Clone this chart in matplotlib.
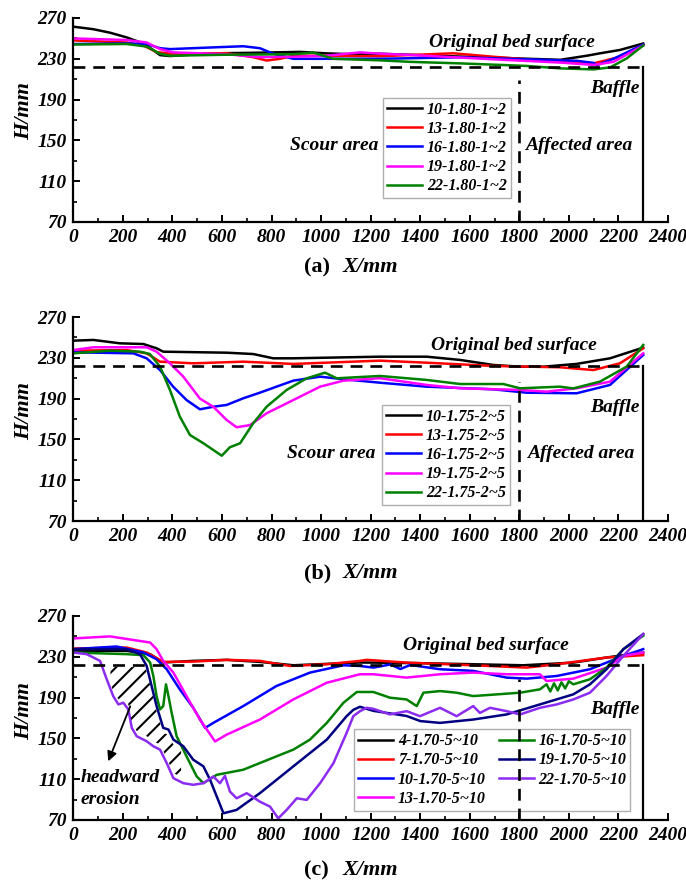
import numpy as np
import matplotlib
matplotlib.use('Agg')
from matplotlib import pyplot as plt
from matplotlib.ticker import FixedLocator, MultipleLocator

#%% DATA

# (a) series 1~2
A_X_10 = [0, 81, 148, 215, 283, 323, 350, 390, 551, 753, 915, 1023, 1157, 1237, 1561, 1763, 1965, 2072, 2126, 2207, 2300]
A_Y_10 = [261.5, 259, 255.6, 251, 245, 238.5, 233.6, 232.7, 235.3, 236, 236.8, 235.3, 234.3, 235, 232.2, 230.6, 229, 233, 235.4, 238.7, 245]
A_X_13 = [0, 215, 283, 336, 390, 618, 726, 780, 834, 888, 1023, 1237, 1534, 1696, 1965, 2100, 2207, 2300]
A_Y_13 = [248, 246, 243, 236.6, 235, 235.5, 231.6, 228.3, 230, 233, 233, 232.5, 235.4, 232, 227, 225.5, 232, 244]
A_X_16 = [0, 215, 296, 350, 390, 618, 686, 753, 807, 888, 1237, 1561, 1830, 2032, 2100, 2113, 2180, 2300]
A_Y_16 = [244.5, 245, 244.5, 240.4, 239.5, 241.7, 242.3, 240.4, 235, 230, 230, 231.5, 229.5, 228, 226, 223.7, 230, 244]
A_X_19 = [0, 215, 296, 350, 403, 618, 753, 888, 1023, 1157, 1237, 1359, 1696, 1965, 2100, 2180, 2300]
A_Y_19 = [250, 248.4, 246, 239.5, 236.3, 234.5, 231.6, 232, 233, 236.3, 235, 233.8, 229.5, 226.3, 224, 227, 243]
A_X_22 = [0, 215, 296, 350, 390, 618, 888, 969, 1050, 1237, 1359, 1561, 1830, 1965, 2100, 2167, 2234, 2300]
A_Y_22 = [244, 244.5, 242, 235, 233, 234, 234.5, 236, 230, 228.5, 227, 225.5, 223, 220.6, 219.6, 221.6, 230.5, 243]

# (b) series 2~5
B_X_10 = [0, 81, 188, 283, 336, 363, 619, 726, 807, 888, 1237, 1426, 1561, 1695, 1803, 1897, 2031, 2166, 2300]
B_Y_10 = [246.8, 247.5, 244.2, 243.5, 239.3, 236, 235, 233.7, 229.5, 229.5, 231.1, 231.1, 227.9, 223, 221.3, 221.3, 224, 229.5, 240]
B_X_13 = [0, 215, 296, 350, 484, 686, 888, 1237, 1426, 1695, 1964, 2099, 2206, 2300]
B_Y_13 = [237, 237.6, 234.4, 226.2, 224.6, 226.2, 224, 227.2, 225.2, 222, 220.7, 218, 224.6, 239.3]
B_X_16 = [0, 242, 296, 350, 403, 457, 511, 565, 619, 686, 753, 820, 888, 996, 1090, 1237, 1426, 1695, 1829, 2031, 2166, 2300]
B_Y_16 = [235.4, 234.4, 229.5, 218, 201.7, 188.6, 179.5, 182, 183.8, 190.3, 195.8, 201.7, 207.6, 211.5, 209, 205.6, 201.7, 199.1, 195.8, 195.2, 203.4, 232.8]
B_X_19 = [0, 81, 296, 336, 390, 444, 511, 565, 619, 659, 713, 780, 888, 996, 1090, 1237, 1426, 1561, 1803, 1910, 2031, 2166, 2300]
B_Y_19 = [237.6, 240.3, 240.3, 236, 224.6, 211.5, 190, 182, 169, 161.9, 164, 175.6, 188.6, 201.7, 207.6, 210, 203.4, 200.1, 198.5, 196.8, 200.1, 206.6, 234.4]
B_X_22 = [0, 148, 269, 309, 350, 390, 430, 471, 525, 599, 632, 673, 726, 780, 861, 942, 1016, 1063, 1237, 1426, 1561, 1735, 1803, 1964, 2018, 2125, 2233, 2300]
B_Y_22 = [234.4, 237, 236, 233.7, 221.3, 198.5, 172.3, 154.3, 146.2, 134, 142.3, 146.2, 165.8, 182, 198.5, 209.9, 215.4, 209.9, 212.2, 208.3, 204.3, 204.3, 200.1, 201.7, 200, 206.6, 221.3, 242.6]

# (c) series 5~10
C_X_4 = [0, 215, 310, 363, 484, 619, 753, 888, 1157, 1211, 1413, 1614, 1816, 2018, 2152, 2220, 2300]
C_Y_4 = [235.8, 235.8, 232.6, 224.4, 226, 227, 225, 221.7, 224.4, 224.3, 223.7, 222.7, 221.7, 224.3, 229.3, 231.6, 234.2]
C_X_7 = [0, 215, 296, 363, 484, 619, 753, 874, 1023, 1157, 1184, 1345, 1614, 1830, 1951, 2152, 2300]
C_Y_7 = [238.1, 239.1, 234.2, 225, 225.3, 227, 226, 221, 222.7, 226, 227, 224.3, 221.7, 219.4, 222.7, 229.3, 231.6]
C_X_10 = [0, 175, 283, 336, 377, 430, 484, 532, 565, 686, 820, 955, 1090, 1157, 1211, 1280, 1320, 1360, 1480, 1614, 1749, 1830, 1951, 2085, 2220, 2300]
C_Y_10 = [237.5, 240.1, 234.2, 227.6, 217.8, 198, 180, 160.3, 165.2, 181.7, 201.4, 214.5, 221.7, 221, 219.4, 222.5, 218, 222, 217.8, 216.2, 209.6, 208.6, 211.2, 217.8, 230.9, 237.5]
C_X_13 = [0, 148, 310, 336, 363, 404, 457, 511, 572, 619, 753, 888, 1023, 1157, 1211, 1345, 1480, 1614, 1749, 1883, 1910, 2018, 2152, 2220, 2300]
C_Y_13 = [248, 250, 244, 237.5, 226, 214.5, 191.5, 168.5, 147, 153.7, 168.5, 188.2, 204.6, 212.9, 212.9, 209.6, 212.9, 214.5, 212.9, 212.9, 206.3, 208.6, 219.4, 230.9, 234.2]
C_X_16 = [0, 215, 283, 310, 323, 336, 350, 363, 374, 384, 397, 417, 457, 498, 525, 579, 686, 820, 888, 955, 1023, 1090, 1144, 1211, 1278, 1345, 1386, 1413, 1480, 1547, 1614, 1803, 1883, 1910, 1925, 1940, 1955, 1970, 1985, 2000, 2018, 2085, 2152, 2220, 2300]
C_Y_16 = [234.2, 232.6, 231.6, 224.4, 211.2, 191.5, 178.4, 181.7, 203, 191.5, 175, 152.1, 132.4, 112.7, 106.1, 114.3, 119.3, 132.4, 139, 148.8, 165.2, 184.9, 195.5, 195.5, 189.9, 188.2, 181.7, 194.8, 196.4, 194.8, 191.5, 194.8, 198.1, 203, 196, 204, 197, 205, 199, 206, 203, 208, 219.4, 237.5, 250.6]
C_X_19 = [0, 215, 269, 296, 316, 336, 363, 384, 404, 444, 484, 525, 552, 579, 606, 632, 659, 753, 888, 1023, 1103, 1130, 1157, 1211, 1345, 1400, 1480, 1614, 1749, 1883, 2018, 2085, 2152, 2220, 2300]
C_Y_19 = [237.5, 237.5, 232.6, 221.1, 201.4, 181.7, 160.3, 158.7, 148.8, 142.3, 129.1, 122.6, 109.4, 93, 76.6, 78.2, 79.9, 96.3, 122.6, 148.8, 171.8, 178, 181, 177, 172, 167, 165.2, 168.5, 173.5, 183.3, 193.2, 203, 217.8, 237.5, 252.3]
C_X_22 = [0, 54, 108, 135, 161, 182, 202, 222, 236, 256, 296, 323, 350, 377, 404, 444, 484, 525, 565, 592, 612, 632, 659, 700, 753, 794, 827, 861, 902, 942, 996, 1050, 1103, 1130, 1157, 1184, 1211, 1278, 1345, 1399, 1480, 1547, 1614, 1641, 1682, 1749, 1803, 1883, 1951, 2018, 2085, 2152, 2220, 2300]
C_Y_22 = [234.2, 232.6, 226, 207.9, 191.5, 183.3, 185, 178.4, 160.3, 152.1, 147.2, 142.3, 139, 125.8, 111, 106.1, 104.5, 106.1, 112.7, 106.1, 113.3, 97.9, 91.3, 96.3, 88, 83.1, 71.6, 79.9, 91.3, 89.7, 106.1, 125.8, 155.4, 171.8, 176.7, 180, 179, 173.5, 176.7, 171.8, 180, 171.8, 181.7, 175, 180, 176.7, 173.5, 180, 183.3, 188.2, 194.8, 211.2, 230.9, 252.3]

Y_TICKS = [70, 110, 150, 190, 230, 270]
Y_MINOR = [90, 130, 170, 210, 250]

BED_LEVEL = 222     # original bed surface, mm
BAFFLE_X = 2300
SPLIT_X = 1800

COLORS = {'k': '#000000', 'r': '#ff0000', 'b': '#0000ff', 'm': '#ff00ff',
          'g': '#008000', 'n': '#000080', 'v': '#8c2cf0'}

#%% STYLE

plt.rcParams['font.family'] = ['Liberation Serif', 'DejaVu Serif']
plt.rcParams['font.weight'] = 'bold'
plt.rcParams['font.style'] = 'italic'
plt.rcParams['hatch.linewidth'] = 1.5
plt.rcParams['hatch.color'] = 'black'

TICK_FS = 14
LEG_FS = 11.5
ANN_FS = 14
LW = 1.8

#%% FUNCTIONS

def setup_axes(ax):
    ax.set_xlim(0, 2400)
    ax.set_ylim(70, 270)
    ax.spines['top'].set_visible(False)
    ax.spines['right'].set_visible(False)
    for s in ('left', 'bottom'):
        ax.spines[s].set_linewidth(1.6)
    ax.xaxis.set_major_locator(MultipleLocator(200))
    ax.xaxis.set_minor_locator(MultipleLocator(100))
    ax.yaxis.set_major_locator(FixedLocator(Y_TICKS))
    ax.yaxis.set_minor_locator(FixedLocator(Y_MINOR))
    ax.tick_params(which='major', direction='in', length=5, width=1.4,
                   labelsize=TICK_FS, pad=5)
    ax.tick_params(which='minor', direction='in', length=3, width=1.2)
    ax.tick_params(axis='x', pad=5)


def draw_frame(ax, vtop):
    ax.plot([0, BAFFLE_X], [BED_LEVEL, BED_LEVEL], color='k', lw=1.9,
            ls=(0, (4.5, 3)), zorder=3)
    ax.plot([SPLIT_X, SPLIT_X], [70, vtop], color='k', lw=1.9,
            ls=(0, (4.5, 3)), zorder=7)
    ax.plot([BAFFLE_X, BAFFLE_X], [70, BED_LEVEL], color='k', lw=1.6, zorder=3)


def add_legend(ax, anchor, ncol=1):
    ax.legend(loc='upper left', bbox_to_anchor=anchor, borderaxespad=0, ncol=ncol,
              fontsize=LEG_FS, frameon=True, fancybox=False, edgecolor='#9a9a9a',
              handlelength=2.2, handletextpad=0.3, labelspacing=0.2,
              borderpad=0.25, columnspacing=0.8)


def caption(fig, letter, ypx):
    H = 883.0
    fig.text(304 / 686, 1 - ypx / H, '(' + letter + ')', fontsize=16,
             style='normal', weight='bold', ha='left', va='center')
    fig.text(343 / 686, 1 - ypx / H, 'X/mm', fontsize=16,
             ha='left', va='center')


def ylabel(fig, ypx):
    fig.text(24 / 686, 1 - ypx / 883.0, 'H/mm', fontsize=16, rotation=90,
             ha='center', va='center')

#%% PLOT

fig = plt.figure(figsize=(6.86, 8.83), dpi=100)
L = 73.3 / 686
W = (668 - 73.3) / 686
Hh = 204 / 883

# ---- (a)
ax = fig.add_axes([L, 1 - 222 / 883, W, Hh])
setup_axes(ax)
draw_frame(ax, 209)
ax.plot(A_X_10, A_Y_10, color=COLORS['k'], lw=LW, label='10-1.80-1~2')
ax.plot(A_X_13, A_Y_13, color=COLORS['r'], lw=LW, label='13-1.80-1~2')
ax.plot(A_X_16, A_Y_16, color=COLORS['b'], lw=LW, label='16-1.80-1~2')
ax.plot(A_X_19, A_Y_19, color=COLORS['m'], lw=LW, label='19-1.80-1~2')
ax.plot(A_X_22, A_Y_22, color=COLORS['g'], lw=LW, label='22-1.80-1~2')
add_legend(ax, (0.521, 0.61))
ax.text(1771, 245.5, 'Original bed surface', fontsize=ANN_FS, ha='center', va='center')
ax.text(2285, 201, 'Baffle', fontsize=ANN_FS, ha='right', va='center')
ax.text(1230, 145, 'Scour area', fontsize=ANN_FS, ha='right', va='center')
ax.text(1823, 145, 'Affected area', fontsize=ANN_FS, ha='left', va='center')
ylabel(fig, 111)
caption(fig, 'a', 267)

# ---- (b)
ax = fig.add_axes([L, 1 - 521 / 883, W, Hh])
setup_axes(ax)
draw_frame(ax, 206)
ax.plot(B_X_10, B_Y_10, color=COLORS['k'], lw=LW, label='10-1.75-2~5')
ax.plot(B_X_13, B_Y_13, color=COLORS['r'], lw=LW, label='13-1.75-2~5')
ax.plot(B_X_16, B_Y_16, color=COLORS['b'], lw=LW, label='16-1.75-2~5')
ax.plot(B_X_19, B_Y_19, color=COLORS['m'], lw=LW, label='19-1.75-2~5')
ax.plot(B_X_22, B_Y_22, color=COLORS['g'], lw=LW, label='22-1.75-2~5')
add_legend(ax, (0.519, 0.571))
ax.text(1780, 242.5, 'Original bed surface', fontsize=ANN_FS, ha='center', va='center')
ax.text(2285, 181, 'Baffle', fontsize=ANN_FS, ha='right', va='center')
ax.text(1220, 136, 'Scour area', fontsize=ANN_FS, ha='right', va='center')
ax.text(1830, 136, 'Affected area', fontsize=ANN_FS, ha='left', va='center')
ylabel(fig, 411)
caption(fig, 'b', 573)

# ---- (c)
ax = fig.add_axes([L, 1 - 820 / 883, W, Hh])
setup_axes(ax)
draw_frame(ax, 208)
ax.plot(C_X_4, C_Y_4, color=COLORS['k'], lw=LW, label='4-1.70-5~10')
ax.plot(C_X_7, C_Y_7, color=COLORS['r'], lw=LW, label='7-1.70-5~10')
ax.plot(C_X_10, C_Y_10, color=COLORS['b'], lw=LW, label='10-1.70-5~10')
ax.plot(C_X_13, C_Y_13, color=COLORS['m'], lw=LW, label='13-1.70-5~10')
ax.plot(C_X_16, C_Y_16, color=COLORS['g'], lw=LW, label='16-1.70-5~10')
ax.plot(C_X_19, C_Y_19, color=COLORS['n'], lw=LW, label='19-1.70-5~10')
ax.plot(C_X_22, C_Y_22, color=COLORS['v'], lw=LW, label='22-1.70-5~10')
add_legend(ax, (0.472, 0.445), ncol=2)

# headward erosion hatched zone between the 22 and 19 profiles
xh = np.linspace(150, 435, 80)
low = np.interp(xh, C_X_22, C_Y_22) + 5
upp = np.minimum(np.interp(xh, C_X_19, C_Y_19) - 5, BED_LEVEL - 2)
ax.fill_between(xh, low, upp, where=upp > low, facecolor='none', hatch='//',
                edgecolor='black', linewidth=0, zorder=2)
ax.annotate('', xy=(137, 125), xytext=(234, 184),
            arrowprops=dict(arrowstyle='-|>', color='k', lw=1.3,
                            mutation_scale=14))
ax.text(30, 101, 'headward\nerosion', fontsize=ANN_FS, ha='left', va='center',
        linespacing=1.35)
ax.text(1664, 241.4, 'Original bed surface', fontsize=ANN_FS, ha='center', va='center')
ax.text(2285, 178.4, 'Baffle', fontsize=ANN_FS, ha='right', va='center')
ylabel(fig, 711)
caption(fig, 'c', 870)

fig.savefig('out.png', dpi=100)
